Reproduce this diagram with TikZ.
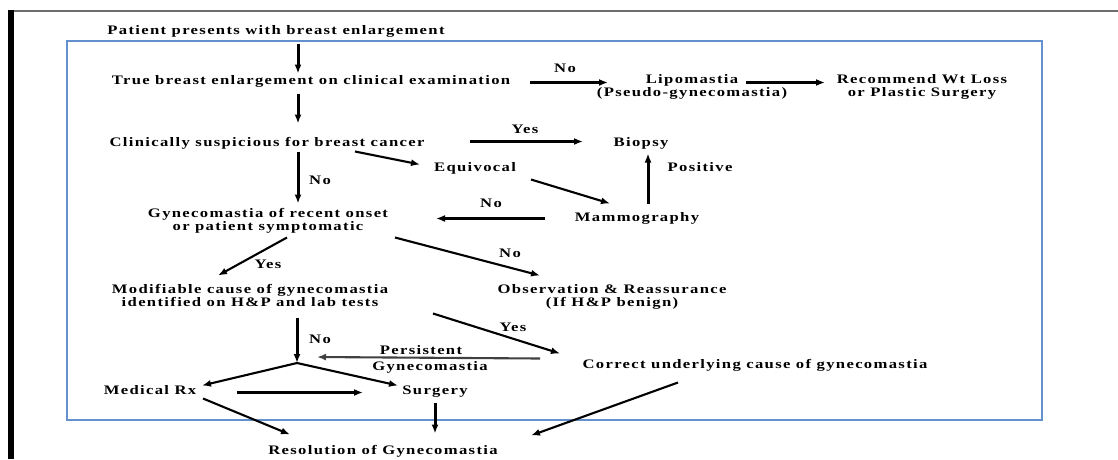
\documentclass[tikz,border=0pt]{standalone}
\usepackage{fontspec}
\usepackage{graphicx}
\newfontfamily\dfont{Liberation Serif}[LetterSpace=8]
\newcommand{\wtxt}[1]{\scalebox{1.28}[1]{\begin{tabular}{@{}c@{}}#1\end{tabular}}}
\usetikzlibrary{arrows.meta}
\definecolor{frameblue}{RGB}{100,145,205}
\definecolor{topgray}{RGB}{110,110,110}
\begin{document}
\begin{tikzpicture}[x=1pt,y=-1pt,
  txt/.style={font=\dfont\bfseries\fontsize{13}{12.5}\selectfont, inner sep=0pt, align=center, yshift=-1.5pt},
  lbl/.style={txt},
  arr/.style={-{Latex[length=9pt,width=7pt]}, line width=2.1pt},
  varr/.style={arr, line width=3pt}]
\useasboundingbox (0,0) rectangle (1118,459);
\fill[white] (0,0) rectangle (1118,459);
\draw[topgray, line width=2pt] (8,11) -- (1118,11);
\fill[black] (8,10) rectangle (14,459);
\draw[frameblue, line width=1.8pt] (67,41) rectangle (1042,420);

% nodes
\node[txt] (patient) at (276,30) {\wtxt{Patient presents with breast enlargement}};
\node[txt] (true) at (311,80) {\wtxt{True breast enlargement on clinical examination}};
\node[txt] (lipo) at (692,86) {\wtxt{Lipomastia\\(Pseudo-gynecomastia)}};
\node[txt] (recom) at (922,86) {\wtxt{Recommend Wt Loss\\or Plastic Surgery}};
\node[txt] (clin) at (267,142) {\wtxt{Clinically suspicious for breast cancer}};
\node[txt] (biopsy) at (641,142) {\wtxt{Biopsy}};
\node[txt] (equiv) at (475,167) {\wtxt{Equivocal}};
\node[txt] (mammo) at (637,217) {\wtxt{Mammography}};
\node[txt] (gyn) at (268,220) {\wtxt{Gynecomastia of recent onset\\or patient symptomatic}};
\node[txt] (modif) at (250,296) {\wtxt{Modifiable cause of gynecomastia\\identified on H\&P and lab tests}};
\node[txt] (obs) at (612,296) {\wtxt{Observation \& Reassurance\\(If H\&P benign)}};
\node[txt] (correct) at (755,364) {\wtxt{Correct underlying cause of gynecomastia}};
\coordinate (junc) at (297,363);
\node[txt] (medical) at (150,390) {\wtxt{Medical Rx}};
\node[txt] (surgery) at (435,390) {\wtxt{Surgery}};
\node[txt] (resol) at (383,450) {\wtxt{Resolution of Gynecomastia}};

% labels
\node[lbl] (lno1) at (565,68) {\wtxt{No}};
\node[lbl] (lyes1) at (525,129) {\wtxt{Yes}};
\node[lbl] (lpos) at (700,167) {\wtxt{Positive}};
\node[lbl] (lno2) at (491,203) {\wtxt{No}};
\node[lbl] (lno3) at (320,180) {\wtxt{No}};
\node[lbl] (lyes2) at (268,264) {\wtxt{Yes}};
\node[lbl] (lno4) at (510,253) {\wtxt{No}};
\node[lbl] (lyes3) at (513,327) {\wtxt{Yes}};
\node[lbl] (lno5) at (320,339) {\wtxt{No}};
\node[lbl] (lpers) at (421,350.5) {\wtxt{Persistent}};
\node[lbl] (lgyn) at (430,366) {\wtxt{Gynecomastia}};

% connectors
\draw[varr] ([shift={(22,12)}]patient.center) -- ([shift={(-13,-8)}]true.center);
\draw[varr] ([shift={(-13,12)}]true.center) -- ([shift={(31,-20)}]clin.center);
\draw[arr] ([shift={(219,1)}]true.center) -- ([shift={(-84,-5)}]lipo.center);
\draw[arr] ([shift={(54,-5)}]lipo.center) -- ([shift={(-97,-5)}]recom.center);
\draw[arr] ([shift={(203,-2)}]clin.center) -- ([shift={(-58,-2)}]biopsy.center);
\draw[arr] ([shift={(88,8)}]clin.center) -- ([shift={(-55,-4)}]equiv.center);
\draw[arr] ([shift={(56,11)}]equiv.center) -- ([shift={(-27,-15)}]mammo.center);
\draw[varr] ([shift={(11,-15)}]mammo.center) -- ([shift={(7,10)}]biopsy.center);
\draw[arr] ([shift={(-92,0)}]mammo.center) -- ([shift={(168,-3)}]gyn.center);
\draw[varr] ([shift={(31,8)}]clin.center) -- ([shift={(30,-18)}]gyn.center);
\draw[arr] ([shift={(19,16)}]gyn.center) -- ([shift={(-32,-22)}]modif.center);
\draw[arr] ([shift={(127,16)}]gyn.center) -- ([shift={(-72,-22)}]obs.center);
\draw[arr] ([shift={(183,16)}]modif.center) -- ([shift={(-195,-12)}]correct.center);
\draw[varr] ([shift={(47,20)}]modif.center) -- (junc);
\draw[arr, draw=black!75] ([shift={(-215,-7)}]correct.center) -- ([shift={(20,-6)}]junc);
\draw[arr] (junc) -- ([shift={(52,-6)}]medical.center);
\draw[arr] (junc) -- ([shift={(-37,-6)}]surgery.center);
\draw[arr] ([shift={(87,1)}]medical.center) -- ([shift={(-72,1)}]surgery.center);
\draw[arr] ([shift={(53,7)}]medical.center) -- ([shift={(-93,-17)}]resol.center);
\draw[varr] ([shift={(0,11)}]surgery.center) -- ([shift={(52,-18)}]resol.center);
\draw[arr] ([shift={(-77,17)}]correct.center) -- ([shift={(148,-16)}]resol.center);
\end{tikzpicture}
\end{document}
